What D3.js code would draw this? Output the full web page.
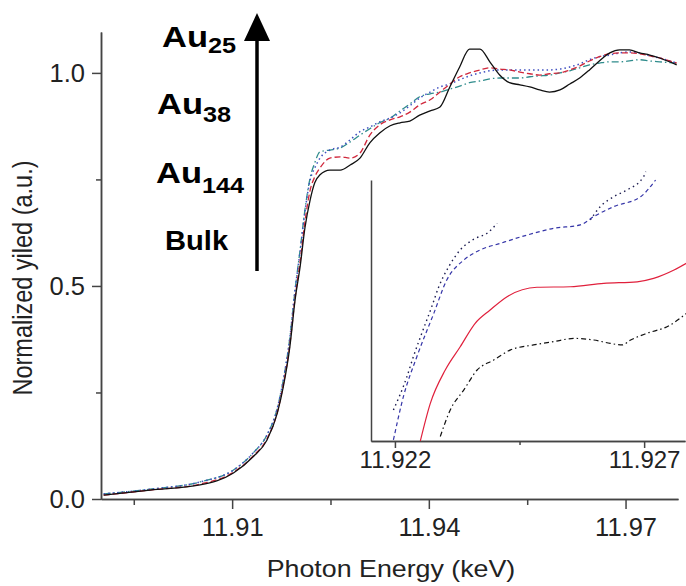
<!DOCTYPE html>
<html lang="en">
<head>
<meta charset="utf-8">
<title>Au L3-edge XANES</title>
<script src="https://cdn.jsdelivr.net/npm/d3@7"></script>
<style>
  body { margin: 0; background: #fff; }
  svg { display: block; }
  text { font-family: "Liberation Sans", Arial, sans-serif; fill: #222; }
  .axis path, .axis line { stroke: #444; stroke-width: 1.5px; }
  .series { fill: none; }
</style>
</head>
<body>
<div id="chart"></div>
<script>
// photon energy grid (keV) for the main spectra
var energy = [11.8904, 11.8975, 11.9051, 11.9102, 11.9132, 11.9153, 11.9169, 11.9178, 11.9188, 11.9196,
  11.9204, 11.9211, 11.9219, 11.9226, 11.9234, 11.9249, 11.9265, 11.928, 11.9295, 11.931,
  11.9325, 11.9341, 11.9356, 11.9371, 11.9386, 11.9402, 11.9417, 11.9432, 11.9447, 11.9462,
  11.9478, 11.9493, 11.9508, 11.9523, 11.9539, 11.9554, 11.9569, 11.9584, 11.96, 11.9615,
  11.963, 11.9645, 11.966, 11.9676, 11.9691, 11.9706, 11.9721, 11.9737, 11.9752, 11.9778];

var bulk = [0.009, 0.021, 0.033, 0.061, 0.099, 0.138, 0.202, 0.263, 0.357, 0.467,
  0.549, 0.636, 0.702, 0.742, 0.761, 0.772, 0.772, 0.784, 0.800, 0.836,
  0.859, 0.876, 0.883, 0.887, 0.901, 0.911, 0.920, 0.967, 1.014, 1.056,
  1.056, 1.026, 0.995, 0.977, 0.972, 0.967, 0.960, 0.955, 0.960, 0.974,
  0.988, 1.007, 1.028, 1.047, 1.054, 1.054, 1.047, 1.042, 1.035, 1.019];

var au144 = [0.009, 0.021, 0.035, 0.063, 0.101, 0.141, 0.204, 0.268, 0.362, 0.472,
  0.561, 0.650, 0.725, 0.756, 0.777, 0.800, 0.803, 0.800, 0.812, 0.854,
  0.878, 0.890, 0.897, 0.908, 0.925, 0.937, 0.955, 0.974, 0.991, 1.000,
  1.007, 1.012, 1.009, 1.007, 1.002, 0.998, 0.995, 0.998, 1.000, 1.007,
  1.016, 1.028, 1.038, 1.045, 1.047, 1.047, 1.045, 1.040, 1.035, 1.023];

var au38 = [0.012, 0.023, 0.040, 0.068, 0.108, 0.150, 0.214, 0.279, 0.378, 0.491,
  0.585, 0.674, 0.749, 0.777, 0.800, 0.819, 0.826, 0.843, 0.862, 0.873,
  0.885, 0.894, 0.906, 0.923, 0.941, 0.955, 0.967, 0.974, 0.984, 0.993,
  1.000, 1.005, 1.007, 1.007, 1.007, 1.007, 1.007, 1.007, 1.009, 1.014,
  1.021, 1.031, 1.038, 1.042, 1.047, 1.049, 1.047, 1.040, 1.035, 1.023];

var au25 = [0.012, 0.023, 0.040, 0.068, 0.108, 0.150, 0.214, 0.279, 0.378, 0.491,
  0.589, 0.678, 0.754, 0.789, 0.815, 0.819, 0.824, 0.838, 0.854, 0.869,
  0.883, 0.894, 0.911, 0.927, 0.944, 0.951, 0.955, 0.962, 0.969, 0.977,
  0.981, 0.986, 0.988, 0.988, 0.988, 0.991, 0.993, 0.995, 1.000, 1.005,
  1.012, 1.019, 1.023, 1.026, 1.026, 1.028, 1.031, 1.028, 1.026, 1.023];

var xTicks = [11.91, 11.94, 11.97];
var xMinor = [11.895, 11.925, 11.955];
var yTicks = [0.0, 0.5, 1.0];
var yMinor = [0.25, 0.75];

// inset (pre-edge shoulder, arbitrary units)
var dotE = [11.92197, 11.92224, 11.92237, 11.92254, 11.92274, 11.92288, 11.92308, 11.92331, 11.92361, 11.92385, 11.92405,
  11.925, 11.92592, 11.92612, 11.92639, 11.92666, 11.92699, 11.92703];
var dotY = [0.119, 0.246, 0.323, 0.413, 0.515, 0.591, 0.668, 0.732, 0.776, 0.796, 0.834,
  null, 0.847, 0.898, 0.936, 0.962, 1.013, 1.032];

var dashE = [11.92197, 11.92217, 11.92244, 11.92278, 11.92304, 11.92338, 11.92371, 11.92411, 11.92465, 11.92519,
  11.92572, 11.92599, 11.92639, 11.92693, 11.92723];
var dashY = [0.004, 0.170, 0.323, 0.489, 0.617, 0.693, 0.732, 0.757, 0.789, 0.815,
  0.828, 0.860, 0.898, 0.936, 1.000];

var solidE = [11.92251, 11.92271, 11.92301, 11.92331, 11.92361, 11.92391, 11.92425, 11.92485, 11.92552, 11.92619,
  11.92686, 11.92719, 11.9276, 11.92785];
var solidY = [0.0, 0.144, 0.272, 0.361, 0.451, 0.502, 0.553, 0.589, 0.591, 0.604,
  0.610, 0.623, 0.655, 0.681];

var dashDotE = [11.92291, 11.92311, 11.92338, 11.92365, 11.92398, 11.92432, 11.92478, 11.92519, 11.92559, 11.92599,
  11.92632, 11.92656, 11.92673, 11.92706, 11.92746, 11.92785];
var dashDotY = [0.017, 0.119, 0.195, 0.272, 0.310, 0.349, 0.368, 0.381, 0.393, 0.387,
  0.374, 0.368, 0.387, 0.413, 0.438, 0.489];

var insetTicks = [11.922, 11.927];
var insetMinor = [11.9245];

var labels = ["Au", "Au", "Au", "Bulk"];
var subs = ["25", "38", "144", ""];

var width = 686, height = 586;

var svg = d3.select("#chart").append("svg")
    .attr("width", width)
    .attr("height", height);

var x = d3.scaleLinear().domain([11.890, 11.978]).range([101, 678]);
var y = d3.scaleLinear().domain([0, 1.096]).range([499, 32]);

// minor ticks first
svg.append("g").attr("class", "axis")
    .attr("transform", "translate(0,499)")
    .call(d3.axisBottom(x).tickValues(xMinor).tickSize(6).tickSizeOuter(0).tickFormat(""));
svg.append("g").attr("class", "axis")
    .attr("transform", "translate(101,0)")
    .call(d3.axisLeft(y).tickValues(yMinor).tickSize(5).tickSizeOuter(0).tickFormat(""));

svg.append("g").attr("class", "axis main")
    .attr("transform", "translate(0,499)")
    .call(d3.axisBottom(x).tickValues(xTicks).tickSize(10).tickSizeOuter(0).tickPadding(9)
      .tickFormat(d3.format(".2f")));
svg.append("g").attr("class", "axis main")
    .attr("transform", "translate(101,0)")
    .call(d3.axisLeft(y).tickValues(yTicks).tickSize(9).tickSizeOuter(0).tickPadding(7)
      .tickFormat(d3.format(".1f")));

svg.selectAll(".main text").style("font-size", "25.5px");

// main spectra
var line = d3.line()
    .x(function(d) { return x(d[0]); })
    .y(function(d) { return y(d[1]); })
    .curve(d3.curveMonotoneX);

var mainSeries = [
  {vals: au25, color: "#2f8c8c", dash: "7,3,1.5,3", w: 1.3},
  {vals: au38, color: "#3f4fc0", dash: "1.5,3", w: 1.5},
  {vals: au144, color: "#d0283c", dash: "6,3", w: 1.3},
  {vals: bulk, color: "#111", dash: null, w: 1.3}
];

mainSeries.forEach(function(s) {
  svg.append("path")
      .datum(energy.map(function(e, i) { return [e, s.vals[i]]; }))
      .attr("class", "series")
      .attr("d", line)
      .attr("stroke", s.color)
      .attr("stroke-width", s.w)
      .attr("stroke-dasharray", s.dash);
});

// axis titles
svg.append("text")
    .attr("transform", "translate(391,577) scale(1.14,1)")
    .attr("text-anchor", "middle")
    .style("font-size", "23.5px")
    .text("Photon Energy (keV)");

svg.append("text")
    .attr("transform", "translate(32,278) scale(1.14,1) rotate(-90)")
    .attr("text-anchor", "middle")
    .style("font-size", "23.5px")
    .text("Normalized yiled (a.u.)");

// inset
var ix = d3.scaleLinear().domain([11.92152, 11.92782]).range([371, 685]);
var iy = d3.scaleLinear().domain([0, 1]).range([441, 180]);

svg.append("g").attr("class", "axis")
    .attr("transform", "translate(0,441)")
    .call(d3.axisBottom(ix).tickValues(insetMinor).tickSize(4).tickSizeOuter(0).tickFormat(""));
svg.append("g").attr("class", "axis")
    .attr("transform", "translate(0,441)")
    .call(d3.axisBottom(ix).tickValues(insetTicks).tickSize(7).tickSizeOuter(0).tickPadding(3)
      .tickFormat(d3.format(".3f")))
  .selectAll("text")
    .style("font-size", "24px");
svg.append("g").attr("class", "axis")
    .attr("transform", "translate(371,0)")
    .call(d3.axisLeft(iy).tickValues([]).tickSizeOuter(0));

var iline = d3.line()
    .defined(function(d) { return d[1] !== null; })
    .x(function(d) { return ix(d[0]); })
    .y(function(d) { return iy(d[1]); })
    .curve(d3.curveMonotoneX);

var insetSeries = [
  {e: dotE, v: dotY, color: "#1c1c50", dash: "1.5,3.5", w: 1.4},
  {e: dashE, v: dashY, color: "#3535a8", dash: "4,3", w: 1.2},
  {e: solidE, v: solidY, color: "#e0203c", dash: null, w: 1.2},
  {e: dashDotE, v: dashDotY, color: "#111", dash: "5,3,1.5,3", w: 1.2}
];

insetSeries.forEach(function(s) {
  svg.append("path")
      .datum(s.e.map(function(e, i) { return [e, s.v[i]]; }))
      .attr("class", "series")
      .attr("d", iline)
      .attr("stroke", s.color)
      .attr("stroke-width", s.w)
      .attr("stroke-dasharray", s.dash);
});

// size-order labels and arrow
var labelX = [162, 157, 156, 165];
var labelY = [47, 114, 183, 250];
var subDy = [6, 8, 10, 0];
var labelSize = [30, 30, 30, 28];
var labelScale = [1.15, 1.15, 1.15, 1.04];

labels.forEach(function(t, i) {
  var txt = svg.append("text")
      .attr("transform", "translate(" + labelX[i] + "," + labelY[i] + ") scale(" + labelScale[i] + ",1)")
      .style("font-size", labelSize[i] + "px")
      .style("font-weight", "bold")
      .style("fill", "#000")
      .text(t);
  if (subs[i]) {
    txt.append("tspan")
        .attr("dy", subDy[i])
        .style("font-size", "22px")
        .text(subs[i]);
  }
});

svg.append("line")
    .attr("x1", 257).attr("x2", 257)
    .attr("y1", 271).attr("y2", 36)
    .attr("stroke", "#000")
    .attr("stroke-width", 3.5);
svg.append("path")
    .attr("d", "M257,13L270,41L244,41Z")
    .attr("fill", "#000");
</script>
</body>
</html>
